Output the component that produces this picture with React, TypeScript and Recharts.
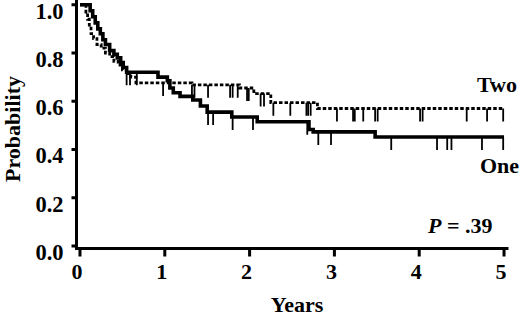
import React from 'react';
import { ComposedChart, Line, XAxis, YAxis, Customized } from 'recharts';

// Kaplan-Meier step data (time in years, survival probability)
const oneTimes = [0, 0.12, 0.15, 0.18, 0.21, 0.24, 0.27, 0.3, 0.35, 0.4, 0.44, 0.48, 0.51, 0.55, 0.92, 1.03, 1.06, 1.1, 1.18, 1.33, 1.42, 1.5, 1.79, 2.09, 2.7, 2.75, 3.48, 5.0];
const oneSurv = [1.0, 0.975, 0.95, 0.925, 0.9, 0.88, 0.855, 0.835, 0.81, 0.795, 0.78, 0.76, 0.74, 0.72, 0.7, 0.685, 0.655, 0.635, 0.62, 0.605, 0.58, 0.555, 0.535, 0.515, 0.483, 0.473, 0.452, 0.452];

const twoTimes = [0, 0.07, 0.09, 0.11, 0.13, 0.16, 0.2, 0.25, 0.3, 0.35, 0.4, 0.45, 0.5, 0.55, 0.6, 0.66, 1.32, 1.88, 2.05, 2.25, 2.8, 5.0];
const twoSurv = [1.0, 0.97, 0.94, 0.91, 0.88, 0.86, 0.835, 0.82, 0.8, 0.785, 0.765, 0.75, 0.73, 0.715, 0.7, 0.676, 0.668, 0.655, 0.632, 0.594, 0.57, 0.57];

const oneCensorTimes = [0.55, 0.59, 0.67, 1.51, 1.57, 1.8, 2.04, 2.68, 2.81, 2.96, 3.67, 4.21, 4.33, 4.38, 4.74, 4.99];
const twoCensorTimes = [0.98, 1.32, 1.35, 1.51, 1.77, 1.8, 1.86, 1.97, 1.99, 2.13, 2.17, 2.28, 2.48, 2.67, 2.69, 2.72, 3.03, 3.22, 3.24, 3.34, 3.48, 3.51, 4.01, 4.04, 4.56, 4.8, 4.99];

const xTicks = [0, 1, 2, 3, 4, 5];
const yTicks = [0, 0.2, 0.4, 0.6, 0.8, 1.0];

const seriesNames = ['One', 'Two'];
const pValueText = '= .39';
const xTitle = 'Years';
const yTitle = 'Probability';

const toCurve = (ts: number[], ss: number[]) => ts.map((t, i) => ({ t, s: ss[i] }));
const survAt = (ts: number[], ss: number[], t: number) => {
  let v = ss[0];
  for (let i = 0; i < ts.length; i++) if (ts[i] <= t) v = ss[i];
  return v;
};

const oneCurve = toCurve(oneTimes, oneSurv);
const twoCurve = toCurve(twoTimes, twoSurv);
const oneCensor = oneCensorTimes.map((t) => ({ t, s: survAt(oneTimes, oneSurv, t) }));
const twoCensor = twoCensorTimes.map((t) => ({ t, s: survAt(twoTimes, twoSurv, t) }));

const FONT = "'Liberation Serif', 'Times New Roman', serif";

const CensorTick = (props: any) => {
  const { cx, cy, index } = props;
  if (cx == null || cy == null) return <g key={index} />;
  return <line key={index} x1={cx} y1={cy} x2={cx} y2={cy + 13} stroke="#000" strokeWidth={1.8} />;
};

const YTick = (props: any) => {
  const { x, y, payload } = props;
  return (
    <text x={x} y={y} dy={14} textAnchor="end" fontFamily={FONT} fontWeight={700} fontSize={22.5} fill="#000">
      {Number(payload.value).toFixed(1)}
    </text>
  );
};

const XTick = (props: any) => {
  const { x, y, payload } = props;
  return (
    <text x={x - 3} y={y} dy={22.5} textAnchor="middle" fontFamily={FONT} fontWeight={700} fontSize={22} fill="#000">
      {payload.value}
    </text>
  );
};

const Annotations = () => (
  <g fontFamily={FONT} fontWeight={700} fontSize={22} fill="#000">
    <text transform="translate(20,129) rotate(-90)" textAnchor="middle">{yTitle}</text>
    <text x={297} y={312} textAnchor="middle">{xTitle}</text>
    <text x={477} y={92} textAnchor="start">{seriesNames[1]}</text>
    <text x={480} y={173} textAnchor="start">{seriesNames[0]}</text>
    <text x={428} y={233} textAnchor="start">
      <tspan fontStyle="italic">P</tspan> {pValueText}
    </text>
  </g>
);

export default function App() {
  return (
    <div style={{ position: 'fixed', left: 0, top: 0, width: 520, height: 316, background: '#fff' }}>
      <ComposedChart
        width={520}
        height={316}
        margin={{ top: 0, right: 13, bottom: 27.5, left: 0 }}
      >
        <XAxis
          type="number"
          dataKey="t"
          domain={[-0.041, 5.035]}
          ticks={xTicks}
          allowDataOverflow
          height={40}
          axisLine={{ stroke: '#000', strokeWidth: 3, strokeLinecap: 'square' }}
          tickLine={{ stroke: '#000', strokeWidth: 3 }}
          tickSize={8}
          tickMargin={0}
          tick={<XTick />}
          interval={0}
        />
        <YAxis
          type="number"
          dataKey="s"
          domain={[-0.0104, 1.0197]}
          ticks={yTicks}
          allowDataOverflow
          width={76.5}
          axisLine={{ stroke: '#000', strokeWidth: 3, strokeLinecap: 'square' }}
          tickLine={{ stroke: '#000', strokeWidth: 3 }}
          tickSize={5}
          tickMargin={8}
          tick={<YTick />}
          interval={0}
        />
        <Line
          data={oneCurve}
          dataKey="s"
          type="stepAfter"
          stroke="#000"
          strokeWidth={3.6}
          dot={false}
          activeDot={false}
          isAnimationActive={false}
        />
        <Line
          data={twoCurve}
          dataKey="s"
          type="stepAfter"
          stroke="#000"
          strokeWidth={2.8}
          strokeDasharray="3.5 2"
          dot={false}
          activeDot={false}
          isAnimationActive={false}
        />
        <Line
          data={oneCensor}
          dataKey="s"
          stroke="none"
          dot={CensorTick}
          activeDot={false}
          isAnimationActive={false}
        />
        <Line
          data={twoCensor}
          dataKey="s"
          stroke="none"
          dot={CensorTick}
          activeDot={false}
          isAnimationActive={false}
        />
        <Customized component={Annotations} />
      </ComposedChart>
    </div>
  );
}
